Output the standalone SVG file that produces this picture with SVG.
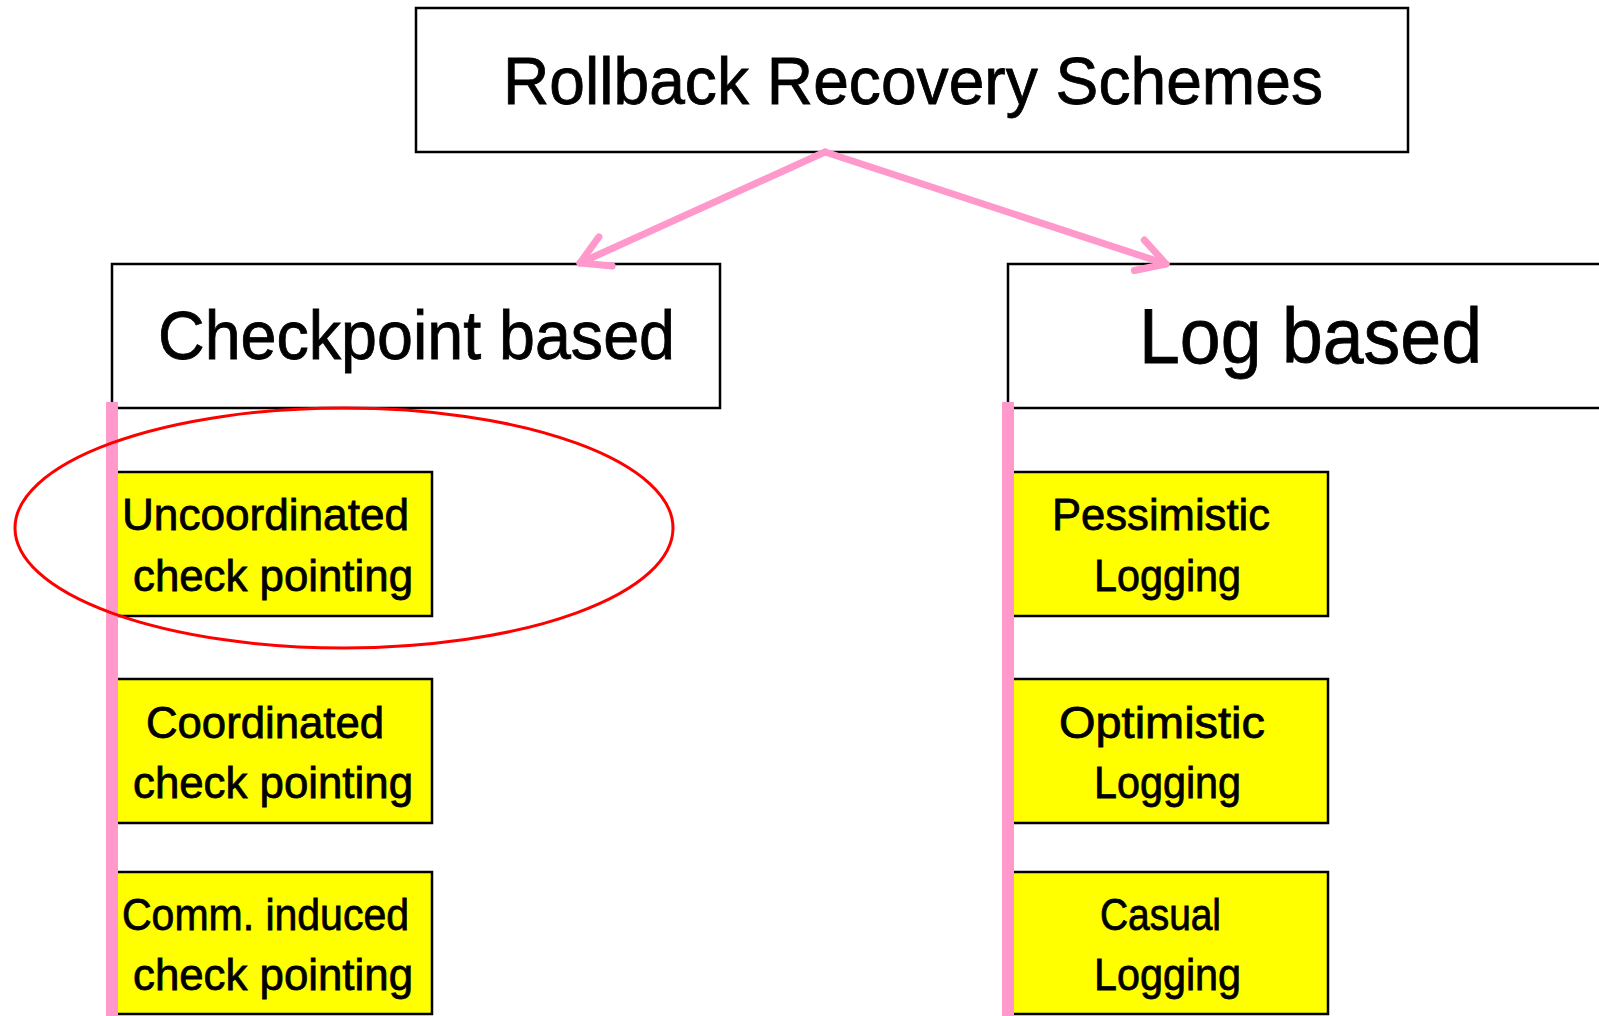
<svg xmlns="http://www.w3.org/2000/svg" width="1599" height="1016" viewBox="0 0 1599 1016">
  <defs>
    <style>
      .frame { fill: #ffffff; stroke: #000000; stroke-width: 2.5; }
      .leaf { fill: #ffff00; stroke: #000000; stroke-width: 2.5; }
      .title { font-family: "Liberation Sans", "DejaVu Sans", sans-serif; fill: #000000; stroke: #000000; stroke-width: 0.8; }
      .big { font-size: 66px; }
      .mid { font-size: 68px; }
      .log { font-size: 78px; }
      .small { font-size: 45px; }
      .link { fill: none; stroke: #ff99cc; stroke-width: 7; stroke-linecap: round; }
      .rail { fill: #ff99cc; }
    </style>
    <marker id="openHead" markerUnits="userSpaceOnUse" viewBox="-40 -25 50 50" refX="0" refY="0" markerWidth="50" markerHeight="50" orient="auto">
      <path d="M -28 -16 L 0 0 L -28 16" fill="none" stroke="#ff99cc" stroke-width="7" stroke-linecap="round" stroke-linejoin="round"/>
    </marker>
  </defs>

  <!-- root -->
  <g id="root">
    <rect class="frame" x="416" y="8" width="992" height="144"/>
    <text class="title big" x="503" y="104" textLength="820" lengthAdjust="spacingAndGlyphs">Rollback Recovery Schemes</text>
  </g>

  <!-- branch headers -->
  <g id="checkpoint-based">
    <rect class="frame" x="112" y="264" width="608" height="144"/>
    <text class="title mid" x="158" y="359" textLength="517" lengthAdjust="spacingAndGlyphs">Checkpoint based</text>
  </g>
  <g id="log-based">
    <rect class="frame" x="1008" y="264" width="640" height="144"/>
    <text class="title log" x="1139" y="363" textLength="343" lengthAdjust="spacingAndGlyphs">Log based</text>
  </g>

  <!-- checkpoint family -->
  <g id="uncoordinated">
    <rect class="leaf" x="114" y="472" width="318" height="144"/>
    <text class="title small" x="122" y="530" textLength="287" lengthAdjust="spacingAndGlyphs">Uncoordinated</text>
    <text class="title small" x="133" y="591" textLength="280" lengthAdjust="spacingAndGlyphs">check pointing</text>
  </g>
  <g id="coordinated">
    <rect class="leaf" x="114" y="679" width="318" height="144"/>
    <text class="title small" x="146" y="738" textLength="238" lengthAdjust="spacingAndGlyphs">Coordinated</text>
    <text class="title small" x="133" y="798" textLength="280" lengthAdjust="spacingAndGlyphs">check pointing</text>
  </g>
  <g id="comm-induced">
    <rect class="leaf" x="114" y="872" width="318" height="142"/>
    <text class="title small" x="122" y="930" textLength="287" lengthAdjust="spacingAndGlyphs">Comm. induced</text>
    <text class="title small" x="133" y="990" textLength="280" lengthAdjust="spacingAndGlyphs">check pointing</text>
  </g>

  <!-- logging family -->
  <g id="pessimistic">
    <rect class="leaf" x="1010" y="472" width="318" height="144"/>
    <text class="title small" x="1052" y="530" textLength="218" lengthAdjust="spacingAndGlyphs">Pessimistic</text>
    <text class="title small" x="1094" y="591" textLength="147" lengthAdjust="spacingAndGlyphs">Logging</text>
  </g>
  <g id="optimistic">
    <rect class="leaf" x="1010" y="679" width="318" height="144"/>
    <text class="title small" x="1059" y="738" textLength="206" lengthAdjust="spacingAndGlyphs">Optimistic</text>
    <text class="title small" x="1094" y="798" textLength="147" lengthAdjust="spacingAndGlyphs">Logging</text>
  </g>
  <g id="causal">
    <rect class="leaf" x="1010" y="872" width="318" height="142"/>
    <text class="title small" x="1100" y="930" textLength="121" lengthAdjust="spacingAndGlyphs">Casual</text>
    <text class="title small" x="1094" y="990" textLength="147" lengthAdjust="spacingAndGlyphs">Logging</text>
  </g>

  <!-- connectors -->
  <g id="connectors">
    <line class="link" x1="825" y1="152" x2="580" y2="263" marker-end="url(#openHead)"/>
    <line class="link" x1="825" y1="152" x2="1166" y2="264" marker-end="url(#openHead)"/>
    <rect class="rail" x="106" y="402" width="12" height="614"/>
    <rect class="rail" x="1002" y="402" width="12" height="614"/>
  </g>

  <!-- highlight -->
  <ellipse id="highlight" cx="344" cy="528" rx="329" ry="120" fill="none" stroke="#ff0000" stroke-width="3"/>
</svg>
